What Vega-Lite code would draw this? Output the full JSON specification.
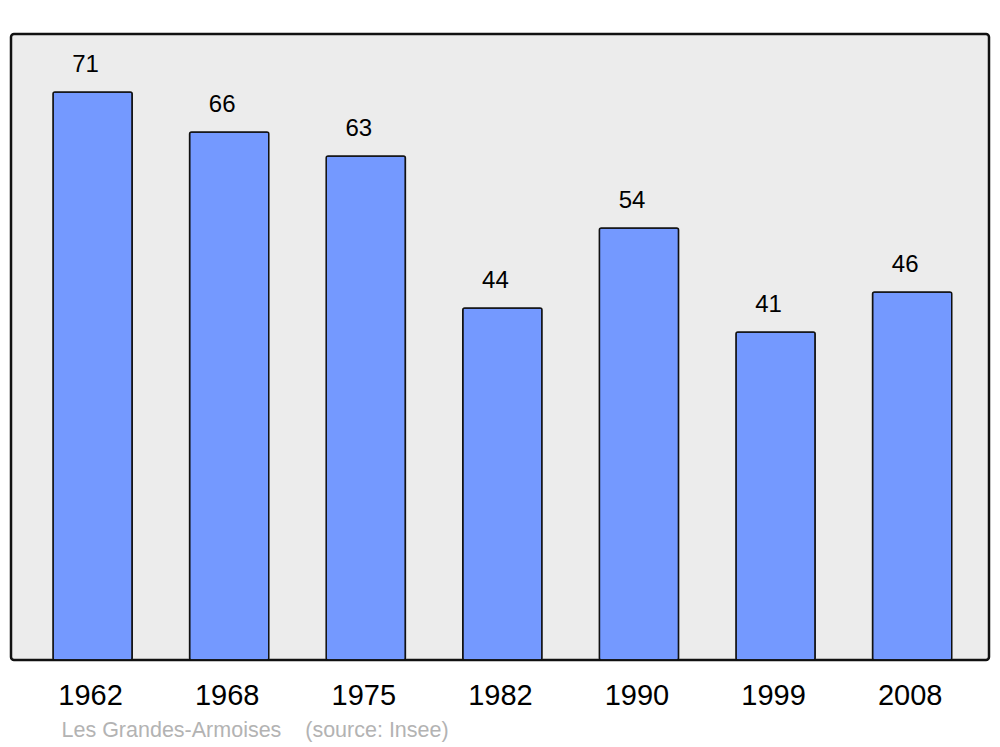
{
  "$schema": "https://vega.github.io/schema/vega-lite/v6.json",
  "width": 978,
  "height": 626,
  "autosize": {"type": "none"},
  "padding": {"left": 11, "top": 34, "right": 11, "bottom": 87},
  "background": "white",
  "config": {
    "font": "Liberation Sans",
    "view": {"fill": "#ececec", "stroke": "#111111", "strokeWidth": 2.5, "cornerRadius": 3}
  },
  "data": {
    "values": [
      {"year": "1962", "pop": 71},
      {"year": "1968", "pop": 66},
      {"year": "1975", "pop": 63},
      {"year": "1982", "pop": 44},
      {"year": "1990", "pop": 54},
      {"year": "1999", "pop": 41},
      {"year": "2008", "pop": 46}
    ]
  },
  "encoding": {
    "x": {
      "field": "year",
      "type": "nominal",
      "sort": null,
      "scale": {"paddingInner": 0.42, "paddingOuter": 0.29, "align": 0.53},
      "axis": {
        "title": "Les Grandes-Armoises\u00a0\u00a0\u00a0\u00a0(source: Insee)",
        "titleFontSize": 21.5,
        "titleFontWeight": "normal",
        "titleColor": "#b3b3b3",
        "titleAnchor": "start",
        "titleAlign": "left",
        "titleX": 50,
        "titleY": 70,
        "titleBaseline": "middle",
        "labelAngle": 0,
        "labelFontSize": 29,
        "labelColor": "black",
        "labelPadding": 35,
        "labelOffset": -2,
        "labelBaseline": "middle",
        "ticks": false,
        "domain": false,
        "grid": false
      }
    },
    "y": {
      "field": "pop",
      "type": "quantitative",
      "scale": {"domain": [0, 78.25], "nice": false, "zero": true},
      "axis": null
    }
  },
  "layer": [
    {
      "mark": {"type": "bar", "color": "#7499ff", "stroke": "#111111", "strokeWidth": 1.5, "cornerRadius": 2}
    },
    {
      "mark": {"type": "text", "fontSize": 24, "color": "black", "dy": -27, "dx": -7, "baseline": "middle"},
      "encoding": {"text": {"field": "pop", "type": "quantitative"}}
    }
  ]
}
